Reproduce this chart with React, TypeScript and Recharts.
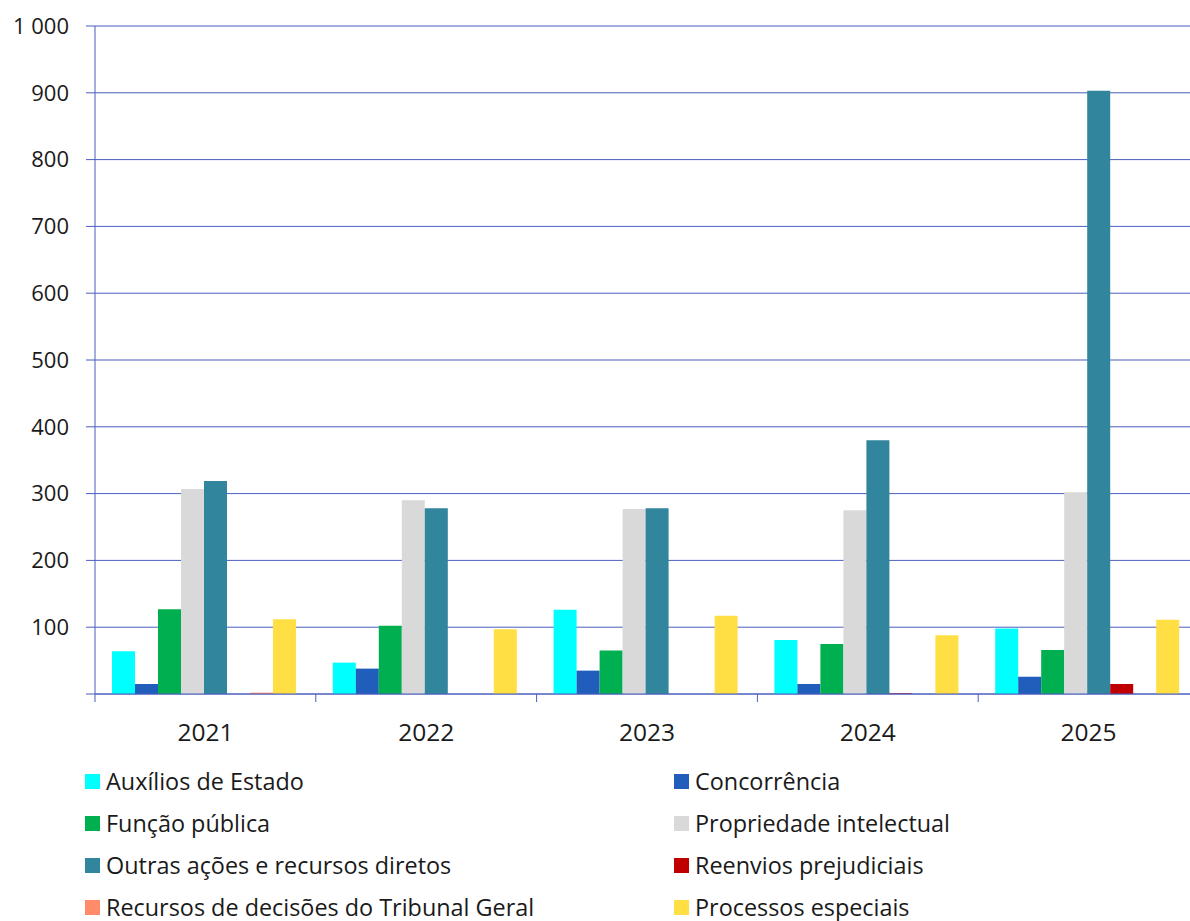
import React from "react";
import { BarChart, Bar, XAxis, YAxis, CartesianGrid } from "recharts";

const years = ["2021", "2022", "2023", "2024", "2025"];
const auxiliosEstado = [64, 47, 126, 81, 98];
const concorrencia = [15, 38, 35, 15, 26];
const funcaoPublica = [127, 102, 65, 75, 66];
const propriedadeIntelectual = [307, 290, 277, 275, 302];
const outrasAcoes = [319, 278, 278, 380, 903];
const reenvios = [0, 0, 0, 1, 15];
const recursosTribunalGeral = [2, 0, 0, 0, 0];
const processosEspeciais = [112, 97, 117, 88, 111];
const yTicks = [0, 100, 200, 300, 400, 500, 600, 700, 800, 900, 1000];

const seriesNames = [
  "Auxílios de Estado",
  "Concorrência",
  "Função pública",
  "Propriedade intelectual",
  "Outras ações e recursos diretos",
  "Reenvios prejudiciais",
  "Recursos de decisões do Tribunal Geral",
  "Processos especiais",
];
const seriesValues = [
  auxiliosEstado,
  concorrencia,
  funcaoPublica,
  propriedadeIntelectual,
  outrasAcoes,
  reenvios,
  recursosTribunalGeral,
  processosEspeciais,
];
const seriesColors = [
  "#00FFFF",
  "#215DBA",
  "#00B050",
  "#D9D9D9",
  "#31859C",
  "#C00000",
  "#FF8B6B",
  "#FFDF43",
];

const data = years.map((y, i) => {
  const row: Record<string, string | number> = { year: y };
  seriesNames.forEach((n, k) => {
    row["s" + k] = seriesValues[k][i];
  });
  return row;
});

const FONT = "'Open Sans', 'Noto Sans', sans-serif";
const TEXT = "#1a1a1a";
const AXIS = "#4B5FBD";
const CHART_W = 1210;
const CHART_H = 760;
const MARGIN = { top: 26, right: 11, left: 0, bottom: 0 };
const Y_W = 95;
const BAND = (CHART_W - MARGIN.left - MARGIN.right - Y_W) / years.length;

const fmt = (v: number) =>
  v === 0 ? "" : String(v).replace(/\B(?=(\d{3})+(?!\d))/g, " ");

const XTick = (props: any) => {
  const { x, y, payload, index } = props;
  const half =
    payload && typeof payload.offset === "number" && payload.offset > 0
      ? payload.offset
      : BAND / 2;
  return (
    <g>
      <line x1={x - half} x2={x - half} y1={y} y2={y + 8} stroke={AXIS} strokeWidth={1} />
      {index === years.length - 1 && (
        <line x1={x + half} x2={x + half} y1={y} y2={y + 8} stroke={AXIS} strokeWidth={1} />
      )}
      <text x={x} y={y + 47} textAnchor="middle" fill={TEXT} fontSize={24.5} fontFamily={FONT}>
        {payload.value}
      </text>
    </g>
  );
};

export default function App() {
  return (
    <div
      style={{
        position: "absolute",
        left: 0,
        top: 0,
        width: 1190,
        height: 921,
        overflow: "hidden",
        background: "#fff",
        fontFamily: FONT,
      }}
    >
      <BarChart
        width={CHART_W}
        height={CHART_H}
        data={data}
        margin={MARGIN}
        barCategoryGap={17}
        barGap={0}
      >
        <CartesianGrid vertical={false} stroke={AXIS} strokeWidth={1} />
        <XAxis
          dataKey="year"
          height={66}
          axisLine={{ stroke: AXIS, strokeWidth: 1 }}
          tickLine={false}
          tickSize={0}
          tickMargin={0}
          tick={<XTick />}
          interval={0}
        />
        <YAxis
          width={Y_W}
          domain={[0, 1000]}
          ticks={yTicks}
          interval={0}
          tickFormatter={fmt}
          axisLine={{ stroke: AXIS, strokeWidth: 1 }}
          tickLine={{ stroke: AXIS, strokeWidth: 1 }}
          tickSize={9}
          tickMargin={17}
          tick={{ fill: TEXT, fontSize: 22, fontFamily: FONT }}
        />
        {seriesNames.map((n, k) => (
          <Bar
            key={n}
            dataKey={"s" + k}
            name={n}
            fill={seriesColors[k]}
            isAnimationActive={false}
          />
        ))}
      </BarChart>
      {seriesNames.map((n, k) => {
        const col = k % 2;
        const row = Math.floor(k / 2);
        const left = col === 0 ? 85 : 674;
        const top = 767 + row * 42;
        return (
          <div
            key={n}
            style={{
              position: "absolute",
              left,
              top,
              height: 28,
              display: "flex",
              alignItems: "center",
              whiteSpace: "nowrap",
            }}
          >
            <span
              style={{
                display: "inline-block",
                width: 15,
                height: 15,
                background: seriesColors[k],
                marginRight: 6,
              }}
            />
            <span style={{ fontSize: 23.4, color: TEXT, fontFamily: FONT, lineHeight: "28px" }}>{n}</span>
          </div>
        );
      })}
    </div>
  );
}
